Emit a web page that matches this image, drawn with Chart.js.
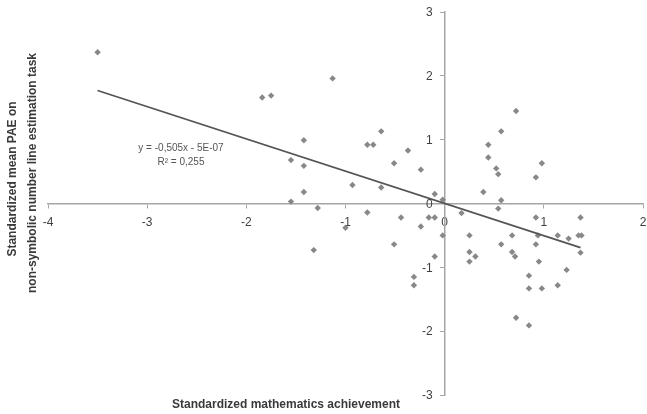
<!DOCTYPE html>
<html><head><meta charset="utf-8">
<style>html,body{margin:0;padding:0;background:#fff;}canvas{display:block;}</style>
<script src="https://cdn.jsdelivr.net/npm/chart.js@4"></script>
</head><body>
<canvas id="c" width="647" height="414"></canvas>
<script>
// Data
const mathAchievement = [
  -3.50, -1.84, -1.75, -1.13, -1.42, -1.55, -1.42, -1.42, -1.55, -1.28,
  -1.32, -1.00, -0.93, -0.78, -0.72, -0.64, -0.64, -0.51, -0.37, -0.24,
  -0.10, -0.02, -0.78, -0.44, -0.51, -0.24, -0.16, -0.10, -0.02, -0.10,
  -0.31, -0.31, 0.17, 0.39, 0.44, 0.44, 0.52, 0.54, 0.57, 0.72,
  0.57, 0.54, 0.92, 0.98, 0.25, 0.25, 0.25, 0.31, 0.57, 0.68,
  0.68, 0.71, 0.72, 0.85, 0.85, 0.85, 0.92, 0.92, 0.94, 0.95,
  0.98, 1.14, 1.14, 1.25, 1.23, 1.35, 1.38, 1.37, 1.37
];
const paeScores = [
  2.37, 1.66, 1.69, 1.96, 0.99, 0.68, 0.59, 0.18, 0.03, -0.07,
  -0.73, -0.38, 0.29, 0.92, 0.92, 1.13, 0.25, 0.63, 0.83, 0.53,
  0.15, 0.06, -0.14, -0.22, -0.64, -0.36, -0.22, -0.22, -0.50, -0.83,
  -1.15, -1.28, -0.15, 0.18, 0.92, 0.72, 0.55, 0.46, 1.13, 1.45,
  0.05, -0.08, 0.41, 0.63, -0.50, -0.76, -0.91, -0.83, -0.64, -0.50,
  -0.76, -0.83, -1.79, -1.13, -1.33, -1.91, -0.22, -0.64, -0.50, -0.91,
  -1.33, -0.50, -1.28, -0.55, -1.04, -0.50, -0.50, -0.22, -0.77
];
const trendX = [-3.50, 1.37];
const trendY = [1.77, -0.69];
const xTicks = [-4, -3, -2, -1, 0, 1, 2];
const yTicks = [-3, -2, -1, 0, 1, 2, 3];
const equationLines = ['y = -0,505x - 5E-07', 'R\u00B2 = 0,255'];
const xTitle = 'Standardized mathematics achievement';
const yTitleLines = ['Standardized mean PAE on', 'non-symbolic number line estimation task'];

const points = mathAchievement.map((x, i) => ({x: x, y: paeScores[i]}));
const trend = trendX.map((x, i) => ({x: x, y: trendY[i]}));

const FONT = '"Liberation Sans", Arial, sans-serif';
const TICK_COLOR = '#3f3f3f';

const textPlugin = {
  id: 'texts',
  afterDraw(chart) {
    const ctx = chart.ctx;
    const xs = chart.scales.x, ys = chart.scales.y;
    ctx.save();
    // y tick labels, left of the y axis
    ctx.fillStyle = TICK_COLOR;
    ctx.font = '12px ' + FONT;
    ctx.textAlign = 'right';
    ctx.textBaseline = 'middle';
    const axisX = xs.getPixelForValue(0);
    yTicks.forEach(v => {
      ctx.fillText(String(v), axisX - 12, ys.getPixelForValue(v) + 1);
    });
    ctx.textAlign = 'center';
    // equation
    ctx.fillStyle = '#555555';
    ctx.font = '10px ' + FONT;
    ctx.fillText(equationLines[0], 181, 148);
    ctx.fillText(equationLines[1], 181, 162);
    // x title
    ctx.fillStyle = '#3a3a3a';
    ctx.font = 'bold 12px ' + FONT;
    ctx.fillText(xTitle, 286, 405);
    // y title
    ctx.save();
    ctx.translate(13, 179);
    ctx.rotate(-Math.PI / 2);
    ctx.fillText(yTitleLines[0], 0, 0);
    ctx.restore();
    ctx.save();
    ctx.translate(33, 173);
    ctx.rotate(-Math.PI / 2);
    ctx.fillText(yTitleLines[1], 0, 0);
    ctx.restore();
    ctx.restore();
  }
};

new Chart(document.getElementById('c'), {
  type: 'scatter',
  data: {
    datasets: [
      {
        label: 'Trend',
        type: 'line',
        data: trend,
        borderColor: '#555555',
        borderWidth: 1.8,
        pointRadius: 0,
        fill: false,
        order: 0
      },
      {
        label: 'Participants',
        data: points,
        pointStyle: 'rectRot',
        pointRadius: 3.2,
        backgroundColor: '#888888',
        borderColor: '#888888',
        borderWidth: 0,
        order: 1
      }
    ]
  },
  options: {
    responsive: false,
    animation: false,
    devicePixelRatio: 1,
    layout: {padding: {left: 48, right: 2, top: 12, bottom: 19}},
    plugins: {legend: {display: false}, tooltip: {enabled: false}},
    scales: {
      x: {
        type: 'linear',
        position: {y: 0},
        min: -4, max: 2,
        afterBuildTicks: s => { s.ticks = xTicks.map(v => ({value: v})); },
        afterFit: s => { s.paddingLeft = 0; s.paddingRight = 0; },
        border: {display: true, color: '#a6a6a6', width: 1.5},
        grid: {display: true, drawOnChartArea: false, drawTicks: true, tickLength: 4, color: '#a6a6a6'},
        ticks: {color: TICK_COLOR, font: {family: FONT, size: 12}, padding: 8, maxRotation: 0, autoSkip: false}
      },
      y: {
        type: 'linear',
        position: {x: 0},
        min: -3, max: 3,
        afterBuildTicks: s => { s.ticks = yTicks.map(v => ({value: v})); },
        afterFit: s => { s.paddingTop = 0; s.paddingBottom = 0; },
        border: {display: true, color: '#a6a6a6', width: 1.5},
        grid: {display: true, drawOnChartArea: false, drawTicks: true, tickLength: 4, color: '#a6a6a6'},
        ticks: {display: false}
      }
    }
  },
  plugins: [textPlugin]
});
</script>
</body></html>
